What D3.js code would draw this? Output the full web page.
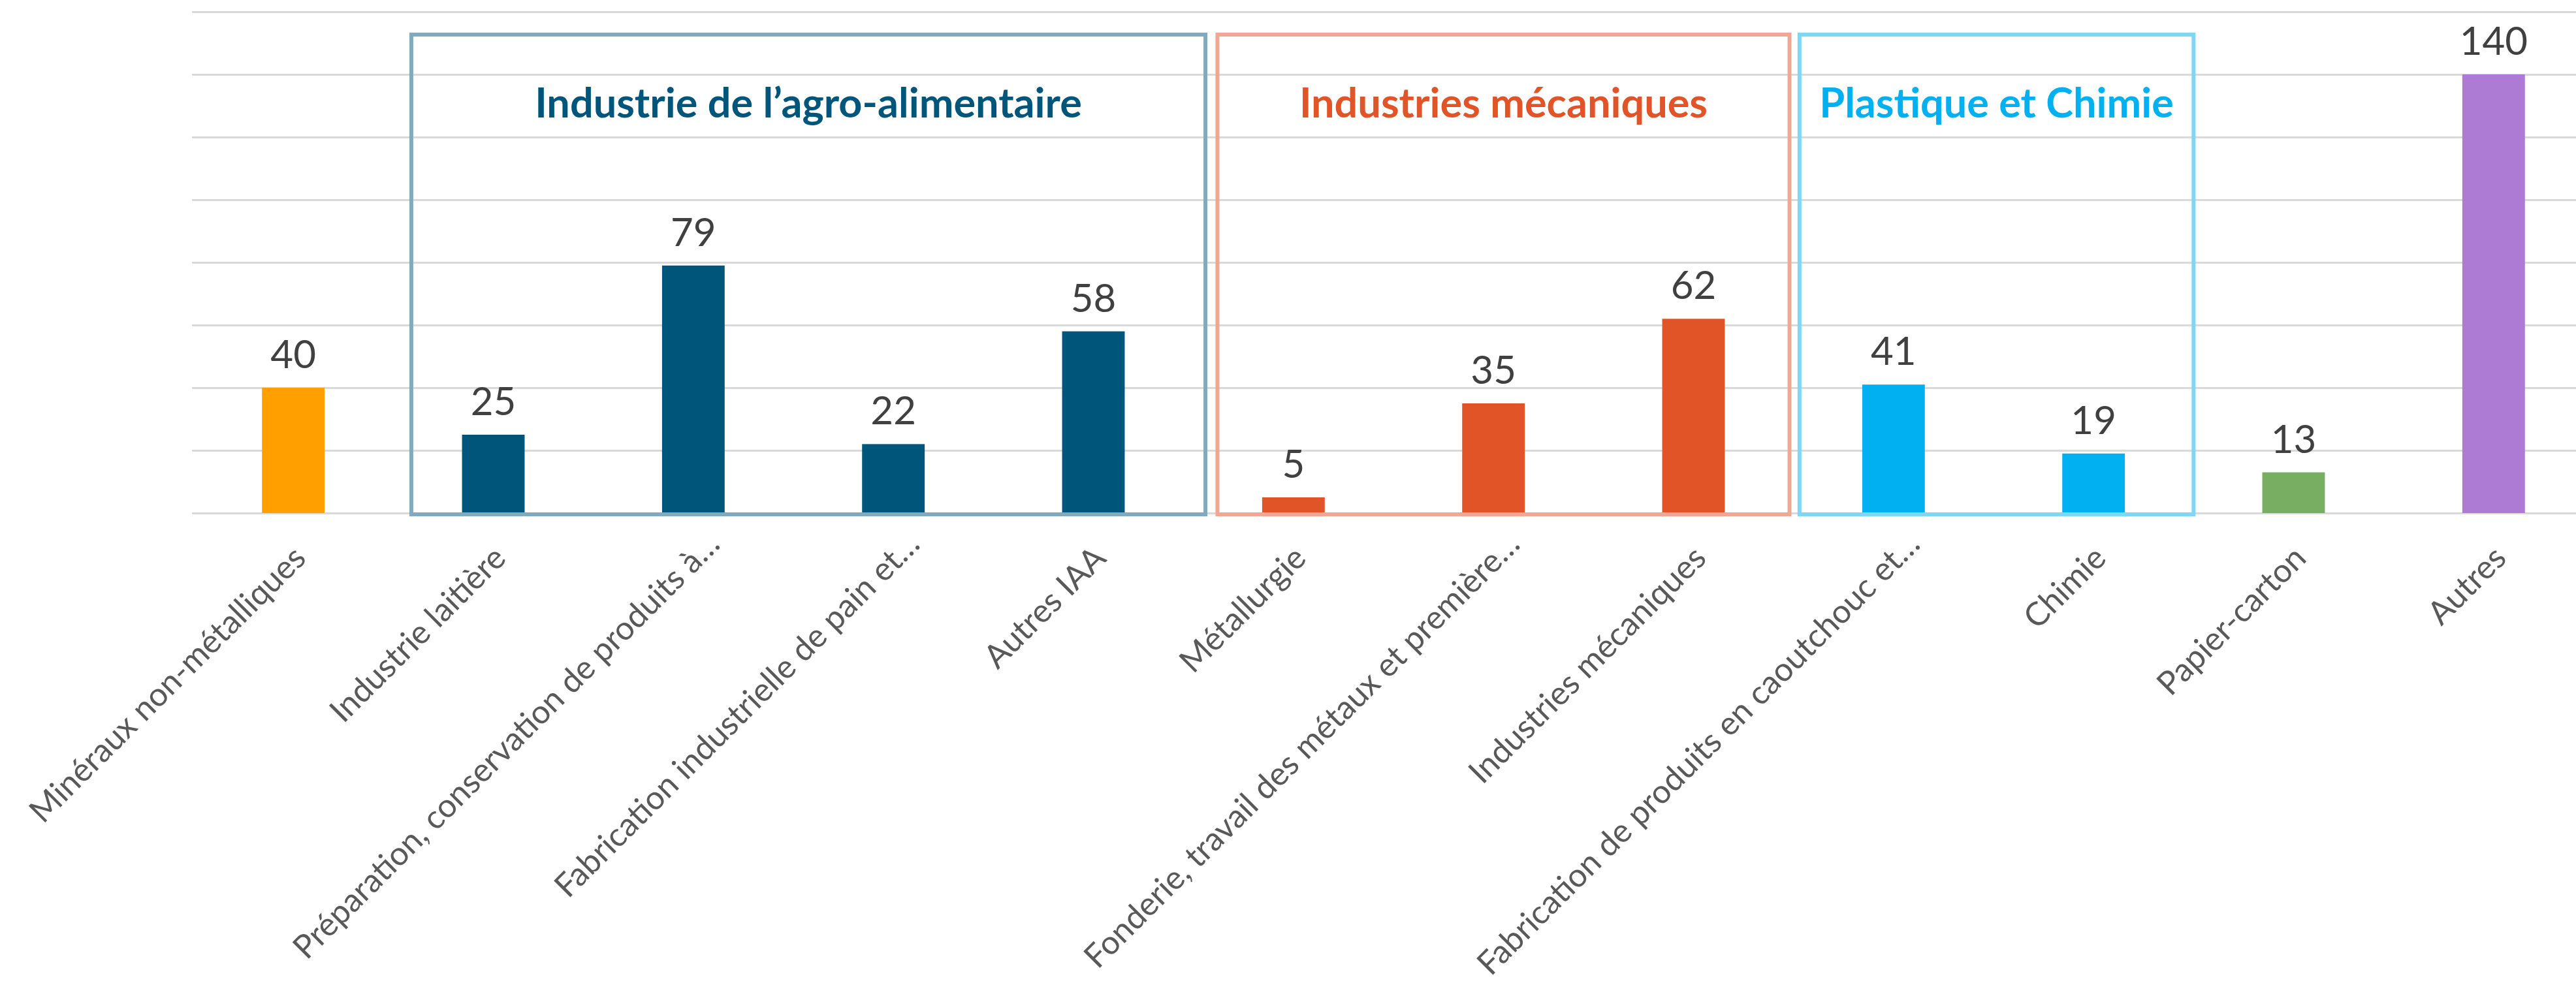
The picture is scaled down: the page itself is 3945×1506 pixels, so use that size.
<!DOCTYPE html>
<html>
<head>
<meta charset="utf-8">
<script src="https://cdn.jsdelivr.net/npm/d3@7"></script>
<style>
  body { margin: 0; background: #fff; }
  svg { display: block; }
</style>
</head>
<body>
<svg id="chart"></svg>
<script>
// chart data
const categories = [
  'Minéraux non-métalliques',
  'Industrie laitière',
  'Préparation, conservation de produits à…',
  'Fabrication industrielle de pain et…',
  'Autres IAA',
  'Métallurgie',
  'Fonderie, travail des métaux et première…',
  'Industries mécaniques',
  'Fabrication de produits en caoutchouc et…',
  'Chimie',
  'Papier-carton',
  'Autres'
];
const values = [40, 25, 79, 22, 58, 5, 35, 62, 41, 19, 13, 140];
const barColors = ['#FFA000', '#00567A', '#00567A', '#00567A', '#00567A',
  '#E05427', '#E05427', '#E05427', '#00B0F0', '#00B0F0', '#77AE62', '#AD7AD4'];
const yTicks = [0, 20, 40, 60, 80, 100, 120, 140, 160];

// groups framed by a box (first / last category index)
const groupLabels = ['Industrie de l’agro-alimentaire', 'Industries mécaniques', 'Plastique et Chimie'];
const groupFirst = [1, 5, 8];
const groupLast = [4, 7, 9];
const groupTextColors = ['#00567A', '#E05427', '#00B0F0'];
const groupBoxColors = ['#7FAABF', '#F0A894', '#80D6F5'];

const width = 3945, height = 1506;
const svg = d3.select('#chart').attr('width', width).attr('height', height);

const x = d3.scaleBand()
  .domain(categories)
  .range([296, 3972])
  .padding(0);
const y = d3.scaleLinear().domain([0, 160]).range([786, 18]);
const barW = x.bandwidth() * 0.313;

// gridlines
const grid = svg.append('g')
  .attr('transform', 'translate(294,0)')
  .call(d3.axisLeft(y).tickValues(yTicks).tickSize(-(width - 294)).tickFormat(''));
grid.select('.domain').remove();
grid.selectAll('.tick line').attr('stroke', '#d9d9d9').attr('stroke-width', 3);

// bars
svg.append('g').selectAll('rect')
  .data(values)
  .enter()
  .append('rect')
  .attr('x', (d, i) => x(categories[i]) + x.bandwidth() / 2 - barW / 2)
  .attr('y', d => y(d))
  .attr('width', barW)
  .attr('height', d => y(0) - y(d))
  .attr('fill', (d, i) => barColors[i]);

// value labels
svg.append('g').selectAll('text')
  .data(values)
  .enter()
  .append('text')
  .attr('x', (d, i) => x(categories[i]) + x.bandwidth() / 2)
  .attr('y', d => y(d) - 30)
  .attr('text-anchor', 'middle')
  .style('font-family', 'Lato, sans-serif')
  .style('font-size', '60px')
  .attr('fill', '#404040')
  .text(d => d);

// group boxes + titles (box edges inset from the band edges, in steps)
const step = x.step();
const boxInset = [[0.09, 0.06], [0.12, -0.02], [0.03, 0]];
groupLabels.forEach((label, i) => {
  const left = x(categories[groupFirst[i]]) + step * boxInset[i][0];
  const right = x(categories[groupLast[i]]) + step * (1 + boxInset[i][1]);
  svg.append('rect')
    .attr('x', left)
    .attr('y', 53)
    .attr('width', right - left)
    .attr('height', y(0) + 2 - 53)
    .attr('fill', 'none')
    .attr('stroke', groupBoxColors[i])
    .attr('stroke-width', 6);
  svg.append('text')
    .attr('x', (left + right) / 2)
    .attr('y', 180)
    .attr('text-anchor', 'middle')
    .style('font-family', 'Lato, sans-serif')
    .style('font-weight', 'bold')
    .style('font-size', '63px')
    .attr('fill', groupTextColors[i])
    .text(label);
});

// category axis, labels at -45 degrees
const xAxis = svg.append('g')
  .attr('transform', `translate(0,${y(0)})`)
  .call(d3.axisBottom(x).tickSize(0));
xAxis.select('.domain').remove();
xAxis.selectAll('.tick text')
  .attr('x', d => d.endsWith('…') ? 30 : 0)
  .attr('y', 0)
  .attr('dy', 0)
  .attr('transform', 'translate(22,72) rotate(-45)')
  .attr('text-anchor', 'end')
  .style('font-family', 'Lato, sans-serif')
  .style('font-size', '50px')
  .attr('fill', '#595959');
</script>
</body>
</html>
